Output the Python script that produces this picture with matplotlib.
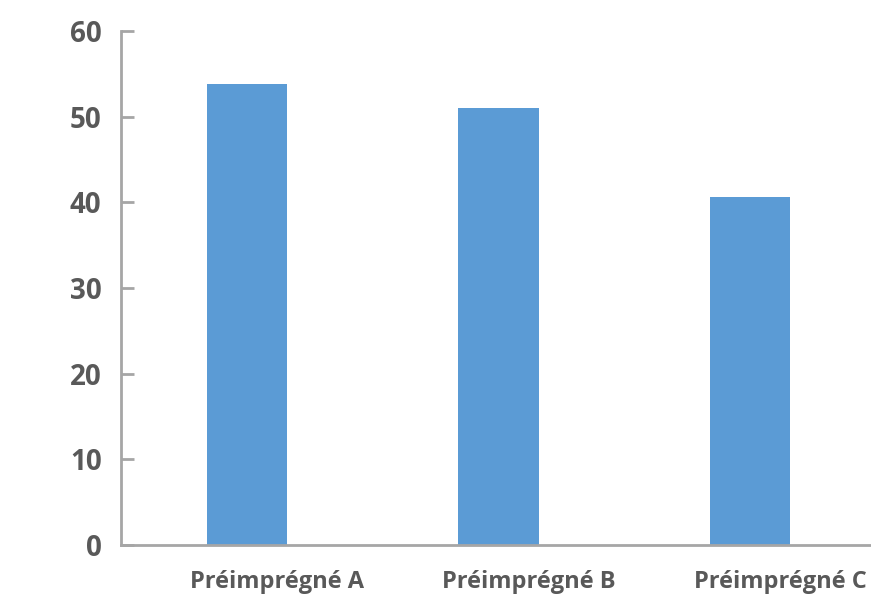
import matplotlib
matplotlib.use("Agg")
import matplotlib.pyplot as plt
import matplotlib.transforms as mtransforms

categories = ["Préimprégné A", "Préimprégné B", "Préimprégné C"]
values = [53.8, 51.0, 40.6]
yticks = [0, 10, 20, 30, 40, 50, 60]

fig = plt.figure(figsize=(8.71, 5.94), dpi=100)
ax = fig.add_axes([0.139, 0.0825, 0.861, 0.8655])

x = range(len(categories))
ax.bar(x, values, width=0.32, color="#5B9BD5")

ax.set_xlim(-0.5, 2.48)
ax.set_ylim(0, 60)
ax.set_yticks(yticks)
ax.set_xticks(list(x))

for side in ["top", "right"]:
    ax.spines[side].set_visible(False)
for side in ["left", "bottom"]:
    ax.spines[side].set_color("#a6a6a6")
    ax.spines[side].set_linewidth(2)

ax.tick_params(axis="y", direction="in", length=9, width=2, color="#a6a6a6", pad=14)
ax.tick_params(axis="x", length=0, pad=18)

ax.set_yticklabels([str(t) for t in yticks], fontsize=20, fontweight="bold",
                   color="#595959", family="Open Sans")
ax.set_xticklabels(categories, fontsize=17, fontweight="bold",
                   color="#595959", family="Open Sans")

# labels sit a bit to the right of the bars in the original
offset = mtransforms.ScaledTranslation(0.30, 0, fig.dpi_scale_trans)
for lab in ax.get_xticklabels():
    lab.set_transform(lab.get_transform() + offset)

fig.savefig("out.png", dpi=100)
